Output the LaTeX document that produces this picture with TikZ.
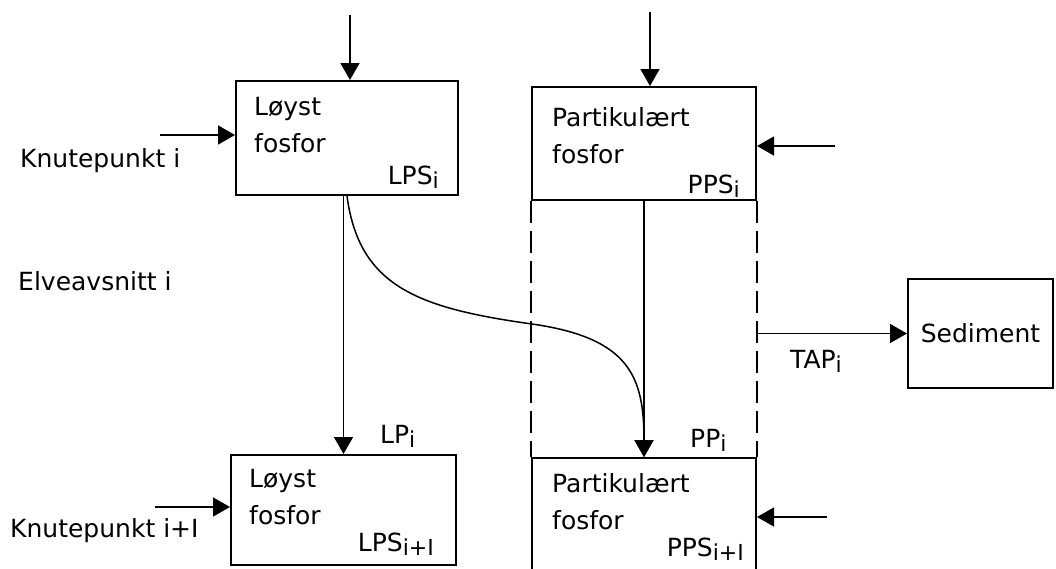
\documentclass[tikz,border=0pt]{standalone}
\usepackage{fontspec}
\setmainfont{DejaVu Sans}
\usetikzlibrary{arrows.meta, positioning}

% lowered index as printed in the figure
\newcommand{\lowidx}[1]{\raisebox{-4.5pt}{\fontsize{22}{22}\selectfont #1}}

\begin{document}
\begin{tikzpicture}[
    x=1pt, y=-1pt,
    font=\fontsize{25}{37}\selectfont,
    pool/.style={rectangle, draw, line width=2pt, inner sep=0pt},
    poolname/.style={anchor=north west, align=left, inner sep=0pt},
    poolid/.style={anchor=base east, inner sep=0pt},
    label/.style={anchor=base west, inner sep=0pt},
    arrow/.style={-{Triangle[length=17pt, width=19pt]}, line width=1.5pt},
    border/.style={line width=1.8pt, dash pattern=on 22pt off 8pt}
]
\useasboundingbox (0,0) rectangle (1056,568);

% Row 1: node i
\node[pool, minimum width=222pt, minimum height=114pt] (lpsA) at (347,138) {};
\node[pool, minimum width=224pt, minimum height=113pt] (ppsA) at (644,143.5) {};
\node[poolname] (lpsAname) at ([shift={(19,17)}]lpsA.north west) {Løyst\\fosfor};
\node[poolname] (ppsAname) at ([shift={(21,21)}]ppsA.north west) {Partikulært\\fosfor};
\node[poolid] (lpsAid) at ([shift={(-20,-12)}]lpsA.south east) {LPS\lowidx{i}};
\node[poolid] (ppsAid) at ([shift={(-17,-8)}]ppsA.south east) {PPS\lowidx{i}};

% Row 2: node i+1
\node[pool, minimum width=225pt, minimum height=110pt] (lpsB) at (343.5,510) {};
\node[pool, minimum width=224pt, minimum height=114pt] (ppsB) at (644,515) {};
\node[poolname] (lpsBname) at ([shift={(19,15)}]lpsB.north west) {Løyst\\fosfor};
\node[poolname] (ppsBname) at ([shift={(21,16)}]ppsB.north west) {Partikulært\\fosfor};
\node[poolid] (lpsBid) at ([shift={(-23,-15)}]lpsB.south east) {LPS\lowidx{i+I}};
\node[poolid] (ppsBid) at ([shift={(-13,-17)}]ppsB.south east) {PPS\lowidx{i+I}};

% Sediment
\node[pool, minimum width=145pt, minimum height=109pt] (sed) at (980.5,333.5) {Sediment};

% Side labels
\node[label] (knA) at (20,167) {Knutepunkt i};
\node[label] (elv) at (18,290) {Elveavsnitt i};
\node[label] (knB) at (10,537) {Knutepunkt i+I};
\node[label] (lp) at (380,443) {LP\lowidx{i}};
\node[label] (pp) at (690,447) {PP\lowidx{i}};
\node[label] (tap) at (790,368) {TAP\lowidx{i}};

% Free ends of the inflows
\coordinate (inA) at (350,15);
\coordinate (inB) at (650,12);
\coordinate (inC) at (835,146);
\coordinate (inD) at (827,517);
\coordinate (inE) at (160,135);
\coordinate (inF) at (155,507);
\coordinate (bend) at (532,324);

% Arrows - inflows
\draw[arrow] (inA) -- (inA |- lpsA.north);
\draw[arrow] (inB) -- (inB |- ppsA.north);
\draw[arrow] (inC) -- (inC -| ppsA.east);
\draw[arrow] (inD) -- (inD -| ppsB.east);
\draw[arrow] (inE) -- (inE -| lpsA.west);
\draw[arrow] (inF) -- (inF -| lpsB.west);

% Arrows - transport along the reach
\draw[arrow] (lpsA.south -| lpsB.north) -- (lpsB.north);
\draw[arrow] (ppsA.south) -- (ppsB.north);
\draw[arrow] (lpsA.south) .. controls +(12,90) and +(-115,-16) .. (bend)
    .. controls +(98,14) and +(0,-80) .. (ppsB.north);

% River reach borders
\draw[border] (ppsA.south west) -- (ppsA.south west |- ppsB.north);
\draw[border] (ppsA.south east) -- (ppsA.south east |- ppsB.north);

% Arrow - settling
\draw[arrow] (ppsA.south east |- sed.west) -- (sed.west);

\end{tikzpicture}
\end{document}
